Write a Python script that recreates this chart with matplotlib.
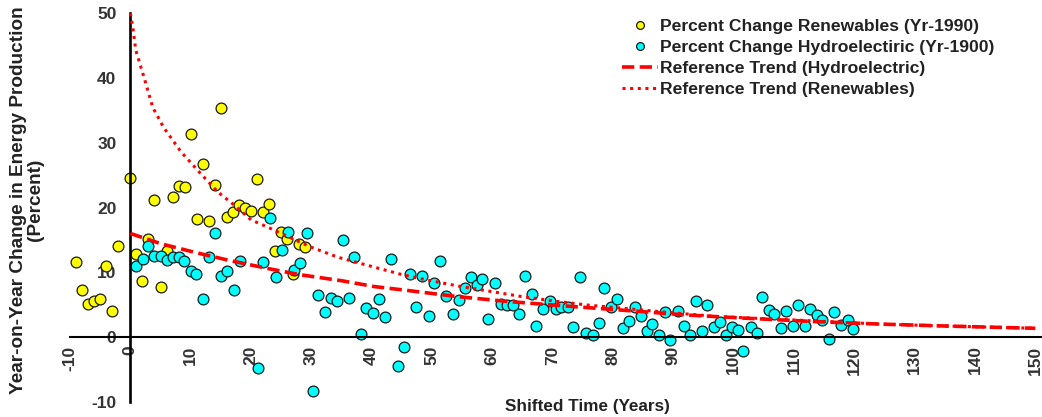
import numpy as np
import matplotlib
matplotlib.use("Agg")
import matplotlib.pyplot as plt

plt.rcParams['font.family'] = ['Liberation Sans', 'DejaVu Sans']
plt.rcParams['axes.unicode_minus'] = False

# Percent change renewables, shifted by 1990
ren_x = [-9, -8, -7, -6, -5, -4, -3, -2, 0, 1, 2, 3, 4, 5, 6, 7, 8, 9, 10,
         11, 12, 13, 14, 15, 16, 17, 18, 19, 20, 21, 22, 23, 24, 25, 26, 27, 28, 29]
ren_y = [11.6, 7.2, 5.1, 5.5, 5.9, 11.0, 4.1, 14.0, 24.5, 12.8, 8.6, 15.1, 21.1,
         7.8, 13.3, 21.7, 23.4, 23.1, 31.4, 18.2, 26.8, 17.9, 23.5, 35.3, 18.6,
         19.3, 20.4, 20.0, 19.5, 24.4, 19.3, 20.6, 13.3, 16.2, 15.1, 9.7, 14.4, 13.9]

# Percent change hydroelectric, shifted by 1900
hyd_x = [1.0, 2.05, 3.0, 4.0, 5.0, 6.1, 7.0, 8.0, 8.9, 10.05, 10.9, 12.1, 13.0,
         14.1, 15.0, 16.1, 17.1, 18.1, 21.1, 22.0, 23.2, 24.1, 25.2, 26.1, 27.15,
         28.1, 29.25, 30.3, 31.1, 32.3, 33.2, 34.3, 35.2, 36.3, 37.15, 38.3, 39.1,
         40.3, 41.2, 42.2, 43.2, 44.3, 45.4, 46.3, 47.35, 48.3, 49.5, 50.3, 51.3,
         52.3, 53.4, 54.4, 55.4, 56.4, 57.4, 58.3, 59.3, 60.5, 61.4, 62.5, 63.5,
         64.5, 65.4, 66.6, 67.3, 68.4, 69.5, 70.5, 71.4, 72.5, 73.3, 74.5, 75.6,
         76.7, 77.6, 78.5, 79.6, 80.6, 81.6, 82.6, 83.6, 84.6, 85.7, 86.5, 87.6,
         88.6, 89.5, 90.7, 91.7, 92.7, 93.7, 94.8, 95.6, 96.7, 97.7, 98.7, 99.7,
         100.7, 101.5, 102.8, 103.9, 104.7, 105.8, 106.7, 107.8, 108.7, 109.8,
         110.7, 111.8, 112.7, 113.8, 114.7, 115.8, 116.7, 117.8, 118.9, 119.8]
hyd_y = [10.9, 12.1, 14.0, 12.5, 12.5, 11.9, 12.3, 12.3, 11.7, 10.2, 9.7, 5.9, 12.3,
         16.1, 9.4, 10.2, 7.3, 11.8, -4.8, 11.6, 18.4, 9.3, 13.5, 16.3, 10.4,
         11.4, 16.1, -8.3, 6.5, 3.9, 6.1, 5.5, 15.0, 6.1, 12.3, 0.5, 4.5,
         3.7, 5.8, 3.1, 12.1, -4.4, -1.5, 9.8, 4.7, 9.4, 3.2, 8.3, 11.7,
         6.4, 3.6, 5.7, 7.5, 9.3, 8.0, 9.0, 2.8, 8.4, 5.1, 4.9, 4.9,
         3.6, 9.4, 6.7, 1.7, 4.4, 5.5, 4.4, 4.6, 4.6, 1.6, 9.2, 0.7,
         0.3, 2.2, 7.6, 4.7, 5.9, 1.4, 2.5, 4.6, 3.3, 1.0, 2.0, 0.3,
         3.8, -0.5, 4.1, 1.75, 0.3, 5.5, 1.0, 5.0, 1.5, 2.3, 0.3, 1.5,
         1.1, -2.1, 1.5, 0.6, 6.2, 4.2, 3.5, 1.35, 4.0, 1.7,
         5.0, 1.7, 4.4, 3.4, 2.7, -0.3, 3.9, 1.8, 2.7, 1.2]

# reference trend curves
trend_hyd_x = [0, 5.1, 10.6, 16.1, 22.7, 28.3, 35, 40.4, 45.9, 54.2, 62.5, 73.5,
               84.5, 92.3, 102.2, 113.2, 124.3, 135.3, 150]
trend_hyd_y = [16.0, 14.4, 13.1, 11.9, 10.6, 9.6, 8.7, 7.8, 7.2, 6.25, 5.5, 4.7,
               3.95, 3.4, 2.9, 2.4, 2.0, 1.7, 1.35]

trend_ren_x = [0, 0.4, 0.9, 2.3, 3.7, 5.5, 8.4, 11.7, 14.5, 17.2, 20, 22.7, 29.9,
               34.5, 40.4, 44.8, 48.7, 54.2, 59.7, 65.2, 70.8, 75.7, 85.7, 96.7,
               113.2, 124.3, 135.3, 150]
trend_ren_y = [50, 47.9, 44.3, 40, 35.5, 32.4, 28.6, 25.2, 22.4, 20.4, 18.1, 17.0,
               13.9, 12.3, 10.8, 9.7, 8.9, 7.9, 7.05, 6.2, 5.5, 4.95, 4.1, 3.2,
               2.5, 2.0, 1.7, 1.35]

W, H = 1042, 417
fig = plt.figure(figsize=(W / 100, H / 100), dpi=100)
ax = fig.add_axes([70 / W, (H - 401.8) / H, (W - 70) / W, (401.8 - 13.3) / H])

mk = dict(ls='none', marker='o', ms=7.8, mec='#1a1a1a', mew=0.9, clip_on=False)
ax.plot(ren_x, ren_y, mfc='#ffff00', label='Percent Change Renewables (Yr-1990)', **mk)
ax.plot(hyd_x, hyd_y, mfc='#00ffff', label='Percent Change Hydroelectiric (Yr-1900)', **mk)
ax.plot(trend_hyd_x, trend_hyd_y, color='#ff0000', lw=2.6, dashes=(3.4, 1.5),
        label='Reference Trend (Hydroelectric)', zorder=4)
ax.plot(trend_ren_x, trend_ren_y, color='#ff0000', lw=2.2, dashes=(1, 1.5),
        label='Reference Trend (Renewables)', zorder=4)

ax.set_xlim(-9.82, 151.1)
ax.set_ylim(-10, 50)
for s in ['top', 'right']:
    ax.spines[s].set_visible(False)
ax.spines['left'].set_position(('data', 0))
ax.spines['bottom'].set_position(('data', 0))
ax.spines['left'].set_linewidth(1.9)
ax.spines['bottom'].set_linewidth(1.5)

ax.set_xticks(range(-10, 151, 10))
ax.set_yticks(range(-10, 51, 10))
ax.tick_params(length=0, labelsize=12.5, labelcolor='#333333')
ax.tick_params(axis='y', pad=10)
ax.tick_params(axis='x', pad=6, labelrotation=90)
for t in ax.get_xticklabels() + ax.get_yticklabels():
    t.set_fontweight('bold')

fig.text(587 / W, 1 - 407 / H, 'Shifted Time (Years)', ha='center', va='center',
         fontsize=12.3, fontweight='bold', color='#222222')
fig.text(27 / W, 1 - 200 / H, 'Year-on-Year Change in Energy Production\n(Percent)',
         rotation=90, ha='center', va='center', multialignment='center',
         fontsize=13.7, fontweight='bold', color='#222222', linespacing=0.95)

leg = ax.legend(loc='upper left', bbox_to_anchor=(622 / W, 1 - 19 / H),
                bbox_transform=fig.transFigure, frameon=False, borderpad=0,
                borderaxespad=0, handlelength=2.05, handletextpad=0.12,
                labelspacing=0.33, markerscale=0.72,
                prop={'weight': 'bold', 'size': 12.6})
for t in leg.get_texts():
    t.set_color('#222222')

fig.savefig('out.png', dpi=100)
